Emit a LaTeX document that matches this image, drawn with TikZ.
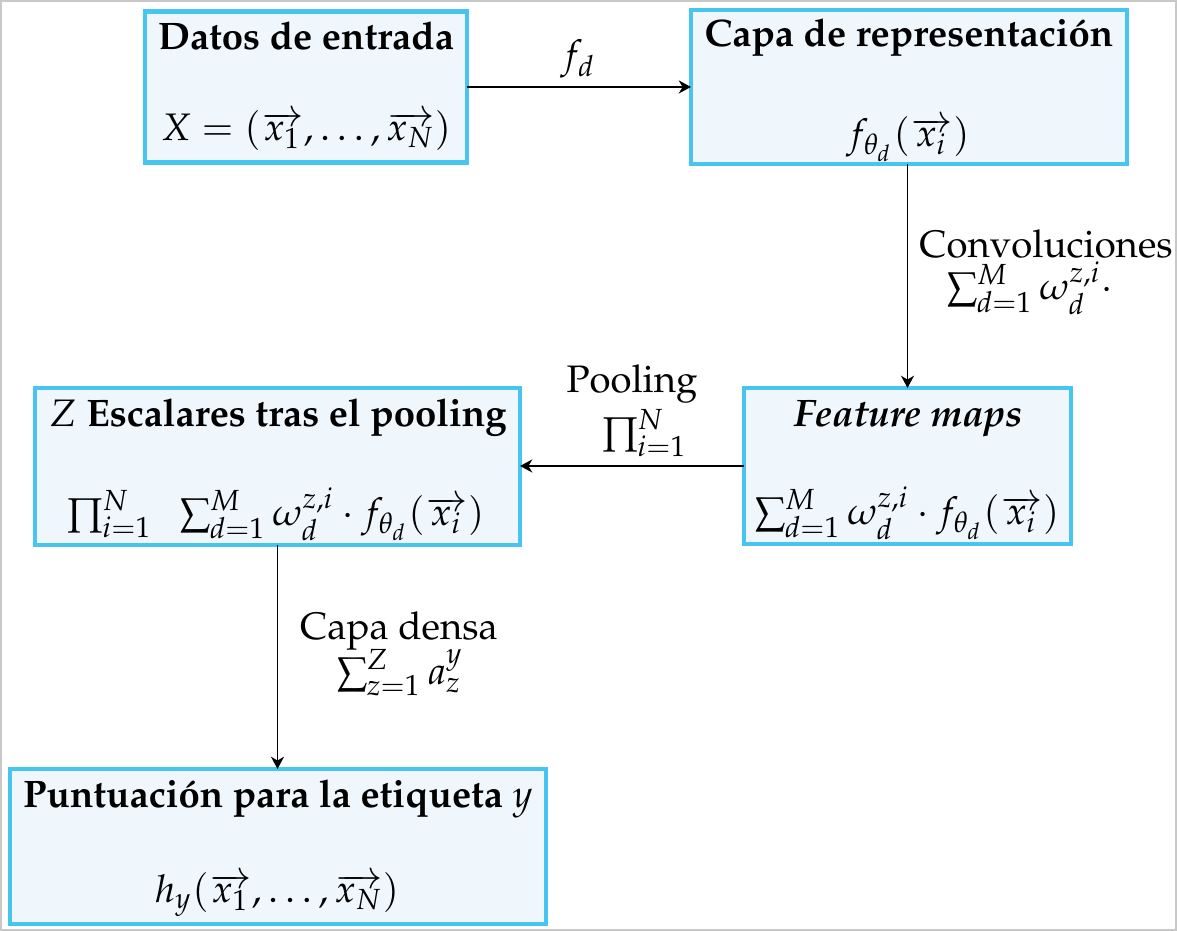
\documentclass[tikz,border=0pt]{standalone}
\usepackage[T1]{fontenc}
\usepackage{mathpazo}
\usetikzlibrary{arrows.meta}
\definecolor{boxborder}{RGB}{72,196,240}
\definecolor{boxfill}{RGB}{239,246,252}
\definecolor{framegray}{RGB}{200,200,200}
\newcommand\px{0.261pt}
\begin{document}
\begin{tikzpicture}[x=0.261pt,y=-0.261pt,
  box/.style={draw=boxborder,fill=boxfill,line width=1.1pt,inner sep=0pt,outer sep=0pt},
  ttl/.style={anchor=base,inner sep=0pt},
  conn/.style={-{Stealth[length=3.2pt,width=3.4pt,inset=1pt]},line width=0.45pt}]
\useasboundingbox (0,0) rectangle (1177,931);
\draw[framegray,line width=0.5pt] (1,1) rectangle (1176,930);
% boxes
\node[box,minimum width=322*\px,minimum height=151*\px] (b1) at (306,87) {};
\node[box,minimum width=436*\px,minimum height=154*\px] (b2) at (909,87) {};
\node[box,minimum width=485*\px,minimum height=157*\px] (b3) at (277.5,466.5) {};
\node[box,minimum width=327*\px,minimum height=156*\px] (b4) at (907.5,466) {};
\node[box,minimum width=536*\px,minimum height=155*\px] (b5) at (278,846.5) {};
% box texts
\node[ttl] (t1) at (306,50) {\bfseries Datos de entrada};
\node[ttl] (f1) at (306,141) {$X=(\overrightarrow{x_1},\ldots,\overrightarrow{x_N})$};
\node[ttl] (t2) at (909,47) {\bfseries Capa de representaci\'on};
\node[ttl] (f2) at (908,147) {$f_{\theta_d}(\overrightarrow{x_i})$};
\node[ttl] (t3) at (278,427) {$Z$ \bfseries Escalares tras el pooling};
\node[ttl] (f3) at (276,526) {$\prod_{i=1}^{N}\;\;\sum_{d=1}^{M}\omega_d^{z,i}\cdot f_{\theta_d}(\overrightarrow{x_i})$};
\node[ttl] (t4) at (908,427) {\bfseries\itshape Feature maps};
\node[ttl] (f4) at (907,525) {$\sum_{d=1}^{M}\omega_d^{z,i}\cdot f_{\theta_d}(\overrightarrow{x_i})$};
\node[ttl] (t5) at (278,808) {\bfseries Puntuaci\'on para la etiqueta $y$};
\node[ttl] (f5) at (277,903) {$h_y(\overrightarrow{x_1},\ldots,\overrightarrow{x_N})$};
% connectors
\draw[conn] (b1.east) -- (b2.west |- b1.east);
\draw[conn] (b2.south -| b4.north) -- (b4.north);
\draw[conn] (b4.west) -- (b3.east |- b4.west);
\draw[conn] (b3.south) -- (b5.north -| b3.south);
% labels
\node[ttl] (lfd) at (578,68) {$f_d$};
\node[ttl] (lconv) at (1046,258) {Convoluciones};
\node[ttl] (lconvm) at (1030,300) {$\sum_{d=1}^{M}\omega_d^{z,i}\cdot$};
\node[ttl] (lpool) at (632,393) {Pooling};
\node[ttl] (lpoolm) at (645,445) {$\prod_{i=1}^{N}$};
\node[ttl] (ldense) at (399,640) {Capa densa};
\node[ttl] (ldensem) at (400,685) {$\sum_{z=1}^{Z}a_z^{y}$};
\end{tikzpicture}
\end{document}
